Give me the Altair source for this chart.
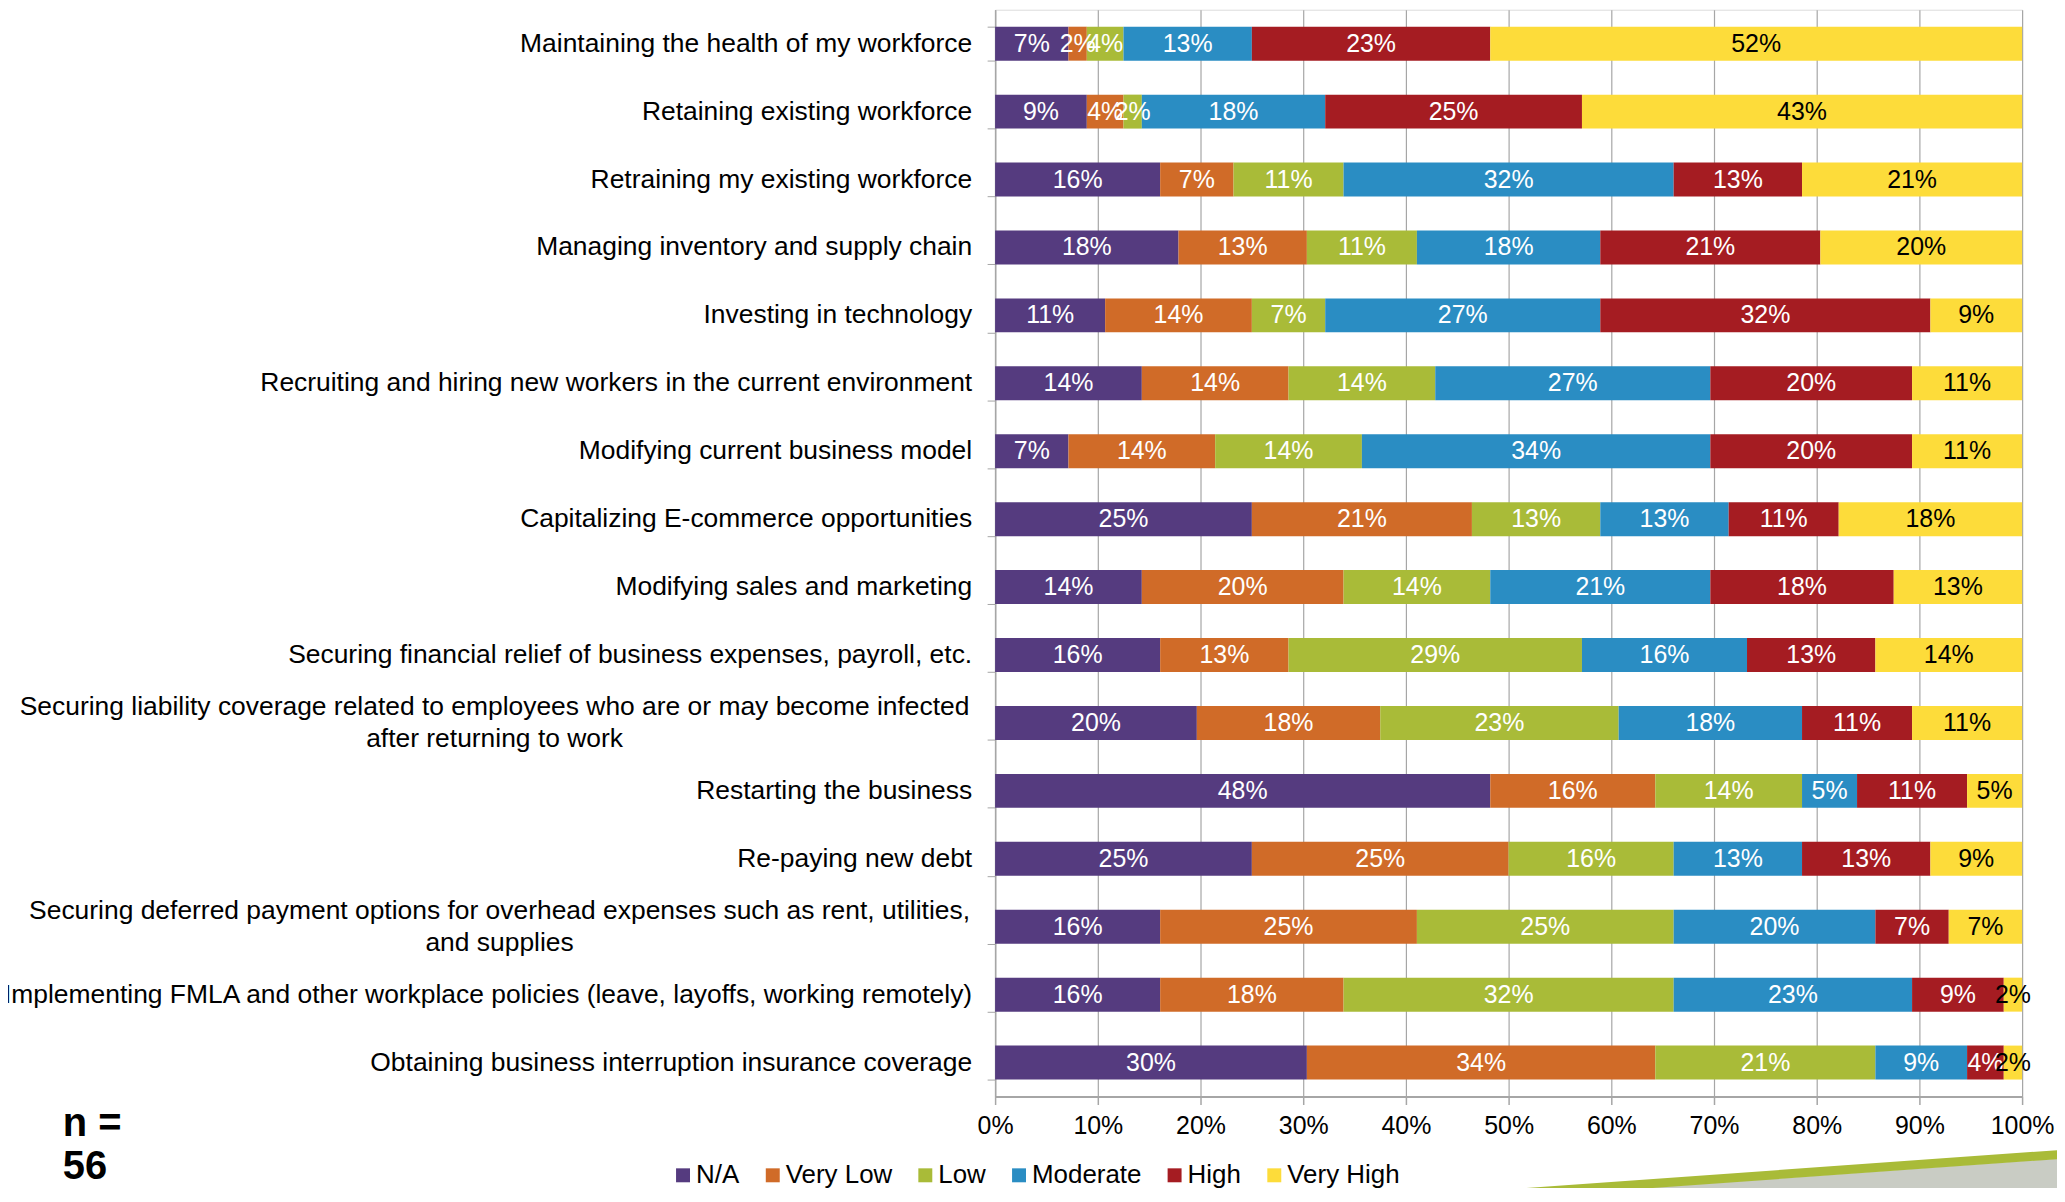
import altair as alt
import pandas as pd

# ---------------- data ----------------
categories = [
    "Maintaining the health of my workforce",
    "Retaining existing workforce",
    "Retraining my existing workforce",
    "Managing inventory and supply chain",
    "Investing in technology",
    "Recruiting and hiring new workers in the current environment",
    "Modifying current business model",
    "Capitalizing E-commerce opportunities",
    "Modifying sales and marketing",
    "Securing financial relief of business expenses, payroll, etc.",
    "Securing liability coverage related to employees who are or may become infected after returning to work",
    "Restarting the business",
    "Re-paying new debt",
    "Securing deferred payment options for overhead expenses such as rent, utilities, and supplies",
    "Implementing FMLA and other workplace policies (leave, layoffs, working remotely)",
    "Obtaining business interruption insurance coverage",
]
wrapped_labels = {
    "Securing liability coverage related to employees who are or may become infected after returning to work":
        "Securing liability coverage related to employees who are or may become infected\nafter returning to work",
    "Securing deferred payment options for overhead expenses such as rent, utilities, and supplies":
        "Securing deferred payment options for overhead expenses such as rent, utilities,\nand supplies",
}
levels = ["N/A", "Very Low", "Low", "Moderate", "High", "Very High"]
colors = ["#553B7F", "#D06B28", "#A9BB38", "#2A8DC3", "#A51C22", "#FDDC3A"]
n_total = 56

# respondent counts per category (out of n = 56), one list per level
counts_na = [4, 5, 9, 10, 6, 8, 4, 14, 8, 9, 11, 27, 14, 9, 9, 17]
counts_very_low = [1, 2, 4, 7, 8, 8, 8, 12, 11, 7, 10, 9, 14, 14, 10, 19]
counts_low = [2, 1, 6, 6, 4, 8, 8, 7, 8, 16, 13, 8, 9, 14, 18, 12]
counts_moderate = [7, 10, 18, 10, 15, 15, 19, 7, 12, 9, 10, 3, 7, 11, 13, 5]
counts_high = [13, 14, 7, 12, 18, 11, 11, 6, 10, 7, 6, 6, 7, 4, 5, 2]
counts_very_high = [29, 24, 12, 11, 5, 6, 6, 10, 7, 8, 6, 3, 5, 4, 1, 1]

series = [counts_na, counts_very_low, counts_low, counts_moderate, counts_high, counts_very_high]

rows = []
for li, (lvl, vals) in enumerate(zip(levels, series)):
    for cat, c in zip(categories, vals):
        pct = int(c * 100 / n_total + 0.5)
        rows.append({"cat": cat, "level": lvl, "order": li, "count": c, "label": f"{pct}%"})
df = pd.DataFrame(rows)

single_df = pd.DataFrame({"cat": [c for c in categories if c not in wrapped_labels],
                          "disp": [c for c in categories if c not in wrapped_labels]})

FONT = "Liberation Sans"
GRID = "#A6A6A6"

y_enc = alt.Y("cat:N", sort=categories,
              scale=alt.Scale(paddingInner=0.5, paddingOuter=0.25),
              axis=alt.Axis(title=None, labels=False, ticks=True, tickBand="extent",
                            tickSize=8, tickColor=GRID, domainColor=GRID, domainWidth=1.5,
                            grid=False))

base = alt.Chart(df).transform_stack(
    stack="count", groupby=["cat"], sort=[alt.SortField("order", order="ascending")],
    as_=["x0", "x1"], offset="normalize"
).transform_calculate(mid="(datum.x0 + datum.x1) / 2")

bars = base.mark_bar().encode(
    x=alt.X("x0:Q", scale=alt.Scale(domain=[0, 1], nice=False),
            axis=alt.Axis(title=None, values=[i / 10 for i in range(11)], format=".0%",
                          grid=True, gridColor=GRID, gridWidth=1.2, domainColor=GRID,
                          domainWidth=2, tickColor=GRID, tickSize=8, tickWidth=1.5,
                          labelFontSize=25, labelColor="black", labelPadding=9,
                          labelFlush=False, labelOverlap=False)),
    x2="x1:Q",
    y=y_enc,
    color=alt.Color("level:N", sort=levels, scale=alt.Scale(domain=levels, range=colors),
                    legend=alt.Legend(title=None, orient="none", direction="horizontal",
                                      legendX=-326, legendY=1156, symbolType="square",
                                      symbolSize=196, symbolStrokeWidth=0, labelFontSize=26,
                                      labelOffset=0, columnPadding=20, padding=0,
                                      labelColor="black", labelFont=FONT)),
)

bar_text = base.mark_text(fontSize=25, font=FONT, baseline="middle", align="center").encode(
    x=alt.X("mid:Q"),
    y=alt.Y("cat:N", sort=categories),
    text="label:N",
    color=alt.condition("datum.level == 'Very High'", alt.value("black"), alt.value("white")),
)

cat_text = alt.Chart(single_df).mark_text(fontSize=26.5, font=FONT, align="right",
                                          baseline="middle", color="black").encode(
    y=alt.Y("cat:N", sort=categories),
    x=alt.value(-23),
    text="disp:N",
)

wrapped_centers = [-502, -497]
wrapped_layers = []
for (cat, disp), cx in zip(wrapped_labels.items(), wrapped_centers):
    wdf = pd.DataFrame({"cat": [cat], "disp": [disp]})
    wrapped_layers.append(
        alt.Chart(wdf).mark_text(fontSize=26.5, font=FONT, align="center", baseline="middle",
                                 lineBreak="\n", lineHeight=32, dy=-16, color="black").encode(
            y=alt.Y("cat:N", sort=categories),
            x=alt.value(cx),
            text="disp:N",
        )
    )

n_df = pd.DataFrame({"t": [f"n =\n{n_total}"]})
n_text = alt.Chart(n_df).mark_text(fontSize=40, font=FONT, fontWeight="bold", align="left",
                                   baseline="alphabetic", lineBreak="\n", lineHeight=43,
                                   color="black").encode(
    x=alt.value(-935), y=alt.value(1130), text="t:N")

deco_df = pd.DataFrame({"d": [0]})
deco_gray = alt.Chart(deco_df).mark_rule(color="#C9CCC4", strokeWidth=64, strokeCap="butt").encode(
    x=alt.value(424), y=alt.value(1230), x2=alt.value(1070), y2=alt.value(1184))
deco_green = alt.Chart(deco_df).mark_rule(color="#A9BB38", strokeWidth=9, strokeCap="butt").encode(
    x=alt.value(424), y=alt.value(1194), x2=alt.value(1070), y2=alt.value(1148))

chart = alt.layer(
    deco_gray, deco_green, bars, bar_text, cat_text, *wrapped_layers, n_text
).properties(
    width=1030, height=1090,
    autosize=alt.AutoSizeParams(type="none"),
    padding={"left": 990, "top": 0, "right": 35, "bottom": 90},
    background="white",
).configure_view(stroke=None).configure(font=FONT)

chart.save("out.html", embed_options={"renderer": "svg", "actions": False})
